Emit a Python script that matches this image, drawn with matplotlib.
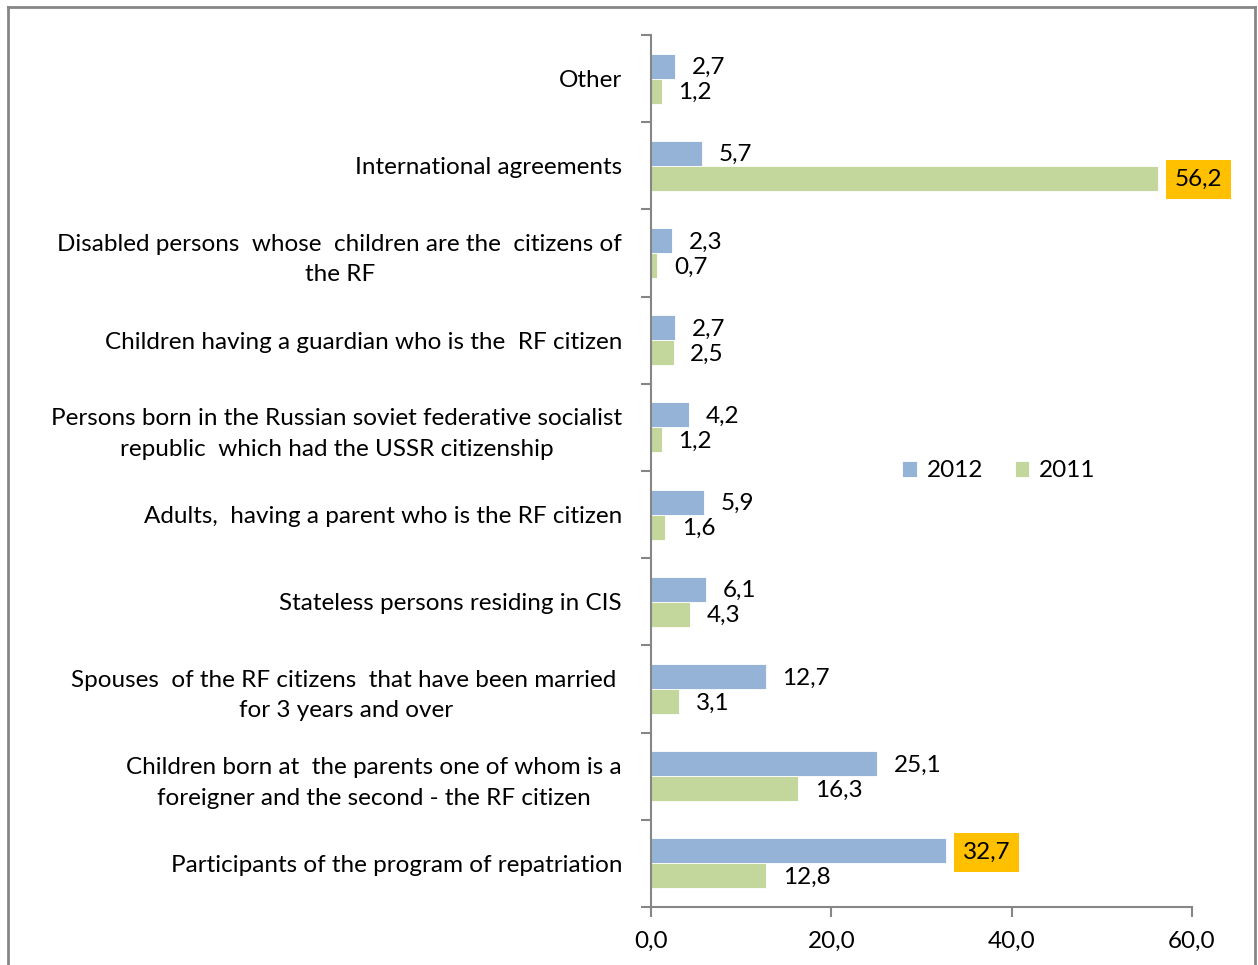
import matplotlib.pyplot as plt
from matplotlib.lines import Line2D
from matplotlib.ticker import FixedLocator
import matplotlib.transforms as mtransforms
import numpy as np

plt.rcParams['font.family'] = ['Lato', 'DejaVu Sans']

categories = [
    "Other",
    "International agreements",
    "Disabled persons  whose  children are the  citizens of\nthe RF",
    "Children having a guardian who is the  RF citizen",
    "Persons born in the Russian soviet federative socialist\nrepublic  which had the USSR citizenship",
    "Adults,  having a parent who is the RF citizen",
    "Stateless persons residing in CIS",
    "Spouses  of the RF citizens  that have been married \nfor 3 years and over",
    "Children born at  the parents one of whom is a\nforeigner and the second - the RF citizen",
    "Participants of the program of repatriation",
]
values_2012 = [2.7, 5.7, 2.3, 2.7, 4.2, 5.9, 6.1, 12.7, 25.1, 32.7]
values_2011 = [1.2, 56.2, 0.7, 2.5, 1.2, 1.6, 4.3, 3.1, 16.3, 12.8]
# labels shown on an orange box
highlighted = {("2012", 9), ("2011", 1)}

blue = "#95B3D7"
green = "#C3D69B"
grey = "#868686"
fs = 17.5

fig = plt.figure(figsize=(12.58, 9.65), dpi=100)
ax = fig.add_axes([0.5175, 0.0601, 0.43, 0.9036])

pos = np.arange(len(categories))
h = 0.287
ax.barh(pos - h / 2, values_2012, height=h, color=blue, edgecolor="white", linewidth=0.6, label="2012")
ax.barh(pos + h / 2, values_2011, height=h, color=green, edgecolor="white", linewidth=0.6, label="2011")

def fmt(v):
    return f"{v:.1f}".replace(".", ",")

for name, vals, off in (("2012", values_2012, -h / 2), ("2011", values_2011, h / 2)):
    for i, v in enumerate(vals):
        kw = {}
        if (name, i) in highlighted:
            kw["bbox"] = dict(boxstyle="square,pad=0.36", fc="#FFC000", ec="none")
        ax.annotate(fmt(v), (v, i + off), xytext=(12, -1), textcoords="offset points",
                    ha="left", va="center", fontsize=fs, **kw)

ax.set_xlim(0, 60)
ax.set_ylim(len(categories) - 0.5, -0.5)
ax.set_xticks([0, 20, 40, 60])
ax.set_xticklabels([fmt(t) for t in [0, 20, 40, 60]], fontsize=fs)
ax.set_yticks(pos)
ax.set_yticklabels(categories, fontsize=fs, ha="center", multialignment="center", linespacing=1.55)
ax.yaxis.set_minor_locator(FixedLocator(np.arange(-0.5, len(categories), 1.0)))
ax.tick_params(axis="y", which="major", length=0, pad=0)
ax.tick_params(axis="y", which="minor", length=7, color=grey, width=1.5, direction="out")
ax.tick_params(axis="x", length=7, color=grey, width=1.5, direction="out", pad=10)

# center the multi-line category labels on their own width
fig.canvas.draw()
renderer = fig.canvas.get_renderer()
for lbl in ax.get_yticklabels():
    w = lbl.get_window_extent(renderer).width
    lbl.set_x(0)
    lbl.set_transform(ax.get_yaxis_transform(which="tick1") +
                      mtransforms.ScaledTranslation(-(w / 2 + 29) / fig.dpi, 0, fig.dpi_scale_trans))

for side in ("top", "right"):
    ax.spines[side].set_visible(False)
for side in ("left", "bottom"):
    ax.spines[side].set_color(grey)
    ax.spines[side].set_linewidth(1.5)

ax.legend(loc="center", bbox_to_anchor=(0.794, 0.512), bbox_transform=fig.transFigure,
          ncol=2, frameon=False, fontsize=fs, handlelength=0.6, handleheight=0.6,
          handletextpad=0.4, columnspacing=1.3)

# outer frame
for xs, ys in (([0.0064, 0.0064], [0.0, 0.9925]), ([0.0064, 0.9976], [0.9925, 0.9925]),
               ([0.9976, 0.9976], [0.0, 0.9925])):
    fig.add_artist(Line2D(xs, ys, transform=fig.transFigure, color=grey, linewidth=2))

fig.savefig("out.png", dpi=100)
